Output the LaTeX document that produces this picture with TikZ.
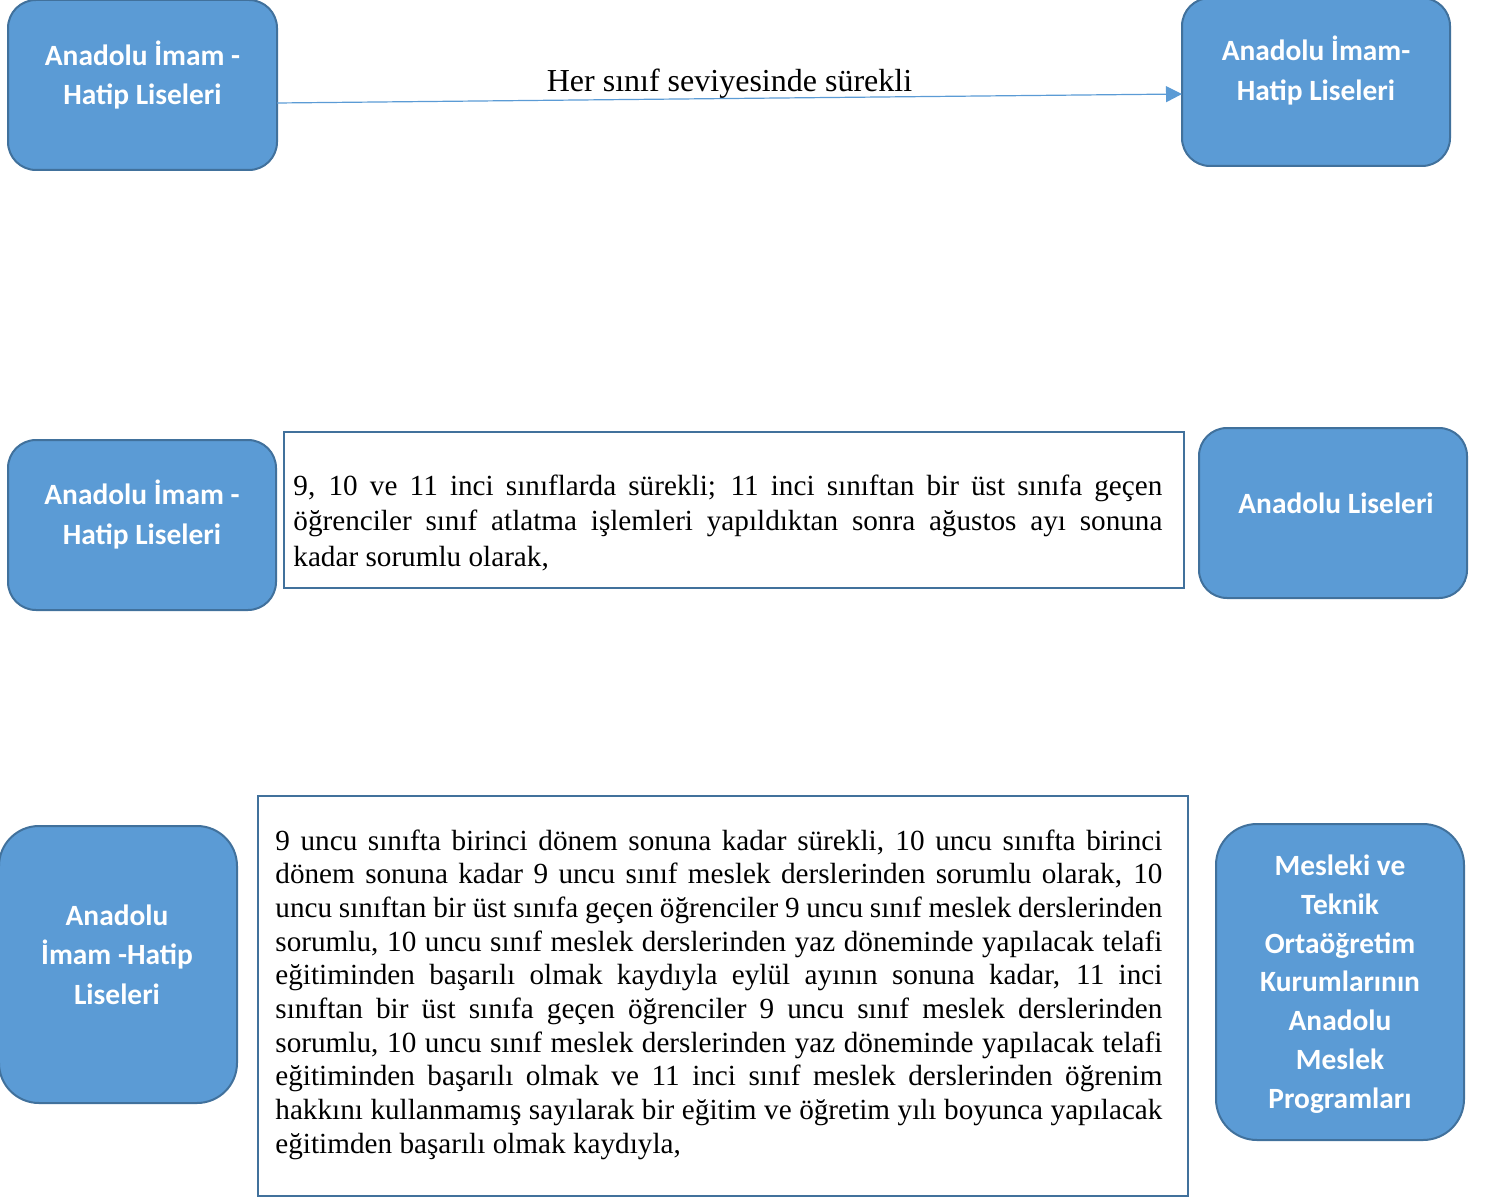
\documentclass[tikz,border=0pt]{standalone}
\usepackage{fontspec}
\setmainfont{Liberation Serif}
\newfontfamily\boxfont{Carlito}
\usetikzlibrary{arrows.meta,calc}
\definecolor{boxfill}{HTML}{5B9BD5}
\definecolor{boxline}{HTML}{41719C}
\definecolor{frameline}{HTML}{41719C}
\definecolor{arrowcol}{HTML}{5B9BD5}
\newcommand\normsp{\spaceskip=0pt\xspaceskip=0pt\relax}
\newcommand\jl[1]{\makebox[\linewidth][s]{\normsp #1}}
\newcommand\btx[1]{\begin{tabular}[t]{@{}c@{}}#1\end{tabular}}
\begin{document}
\begin{tikzpicture}[x=0.5pt,y=-0.5pt,
  bluebox/.style={draw=boxline, line width=1pt, fill=boxfill, inner sep=0pt, outer sep=0pt},
  boxtext/.style={text=white, font=\boxfont\bfseries\fontsize{14.7}{19.75}\selectfont, anchor=base, inner sep=0pt},
  framebox/.style={draw=frameline, line width=1pt, fill=white, inner sep=0pt, outer sep=0pt},
  bodytext/.style={font=\fontsize{14.6}{17.85}\selectfont, align=left, anchor=base west, inner sep=0pt},
  flow/.style={draw=arrowcol, line width=0.6pt, -{Triangle[length=8pt,width=8pt]}}
]
\useasboundingbox (0,0) rectangle (1487,1198);

% top row
\node[bluebox, rounded corners=14pt, minimum width=134.5pt, minimum height=85pt] (a1) at (142.5,85) {};
\node[boxtext] (a1t) at (142.5,65.5) {\btx{Anadolu İmam -\\Hatip Liseleri}};
\node[bluebox, rounded corners=14pt, minimum width=134pt, minimum height=84pt] (a2) at (1316,82) {};
\node[boxtext] (a2t) at (1316,61) {\btx{Anadolu İmam-\\Hatip Liseleri}};
\draw[flow] ($(a1.east)+(0,18)$) -- node[pos=0.5, anchor=south, inner sep=0pt, yshift=-0.5pt, font=\fontsize{16}{19}\selectfont] (lab) {Her sınıf seviyesinde sürekli} ($(a2.west)+(0,12)$);

% middle row
\node[bluebox, rounded corners=14pt, minimum width=134pt, minimum height=85pt] (b1) at (142,525) {};
\node[boxtext] (b1t) at (142,504.5) {\btx{Anadolu İmam -\\Hatip Liseleri}};
\node[framebox, minimum width=450pt, minimum height=78pt] (tb) at (734,510) {};
\node[bodytext, text width=434.5pt] (tbt) at (293,495) {\normsp
\jl{9, 10 ve 11 inci sınıflarda sürekli; 11 inci sınıftan bir üst sınıfa geçen}\\
\jl{öğrenciler sınıf atlatma işlemleri yapıldıktan sonra ağustos ayı sonuna}\\
kadar sorumlu olarak,};
\node[bluebox, rounded corners=14pt, minimum width=134pt, minimum height=85pt] (b2) at (1333,513) {};
\node[boxtext] (b2t) at (1336,513) {Anadolu Liseleri};

% bottom row
\node[bluebox, rounded corners=20pt, minimum width=119pt, minimum height=138.5pt] (c1) at (118,964.5) {};
\node[boxtext] (c1t) at (117,925) {\btx{Anadolu\\İmam -Hatip\\Liseleri}};
\node[framebox, minimum width=465pt, minimum height=200pt] (tc) at (723,996) {};
\node[bodytext, text width=443.5pt, font=\fontsize{14.6}{16.85}\selectfont] (tct) at (275,850) {\normsp
\jl{9 uncu sınıfta birinci dönem sonuna kadar sürekli, 10 uncu sınıfta birinci}\\
\jl{dönem sonuna kadar 9 uncu sınıf meslek derslerinden sorumlu olarak, 10}\\
\jl{uncu sınıftan bir üst sınıfa geçen öğrenciler 9 uncu sınıf meslek derslerinden}\\
\jl{sorumlu, 10 uncu sınıf meslek derslerinden yaz döneminde yapılacak telafi}\\
\jl{eğitiminden başarılı olmak kaydıyla eylül ayının sonuna kadar, 11 inci}\\
\jl{sınıftan bir üst sınıfa geçen öğrenciler 9 uncu sınıf meslek derslerinden}\\
\jl{sorumlu, 10 uncu sınıf meslek derslerinden yaz döneminde yapılacak telafi}\\
\jl{eğitiminden başarılı olmak ve 11 inci sınıf meslek derslerinden öğrenim}\\
\jl{hakkını kullanmamış sayılarak bir eğitim ve öğretim yılı boyunca yapılacak}\\
eğitimden başarılı olmak kaydıyla,};
\node[bluebox, rounded corners=20.5pt, minimum width=124pt, minimum height=158pt] (c2) at (1340,982) {};
\node[boxtext, font=\boxfont\bfseries\fontsize{14.7}{19.4}\selectfont] (c2t) at (1340,875.5) {\btx{Mesleki ve\\Teknik\\Ortaöğretim\\Kurumlarının\\Anadolu\\Meslek\\Programları}};
\end{tikzpicture}
\end{document}
